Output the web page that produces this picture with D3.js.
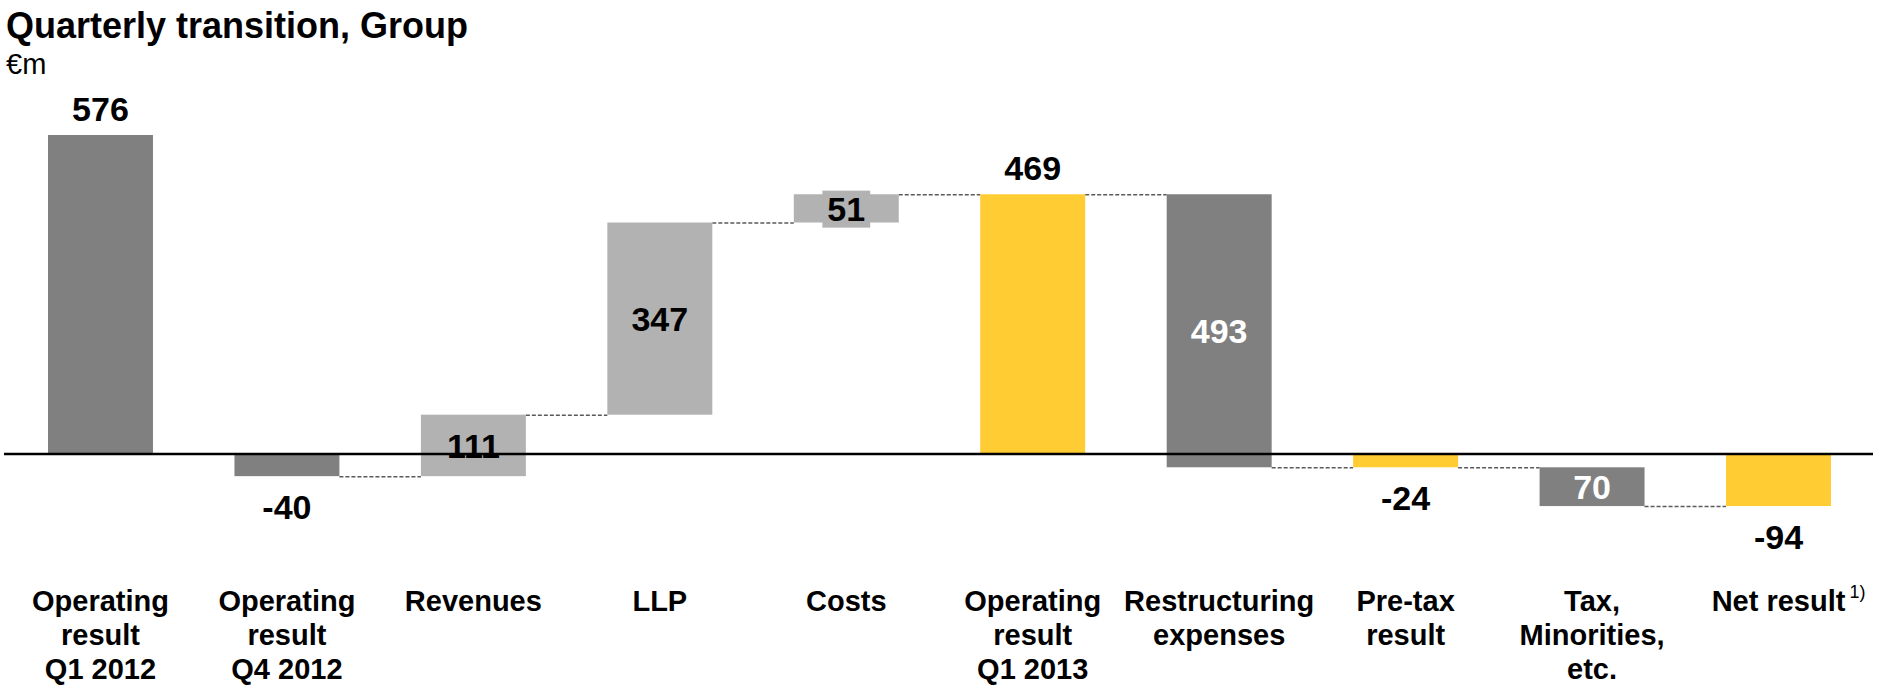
<!DOCTYPE html>
<html>
<head>
<meta charset="utf-8">
<script src="https://cdn.jsdelivr.net/npm/d3@7"></script>
<style>
  body { margin: 0; background: #fff; }
  svg { display: block; }
  text { font-family: Arial, "Liberation Sans", sans-serif; }
</style>
</head>
<body>
<div id="canvas"></div>
<script>
"use strict"

/* data, in €m */
let categories = [
    ["Operating", "result", "Q1 2012"],
    ["Operating", "result", "Q4 2012"],
    ["Revenues"],
    ["LLP"],
    ["Costs"],
    ["Operating", "result", "Q1 2013"],
    ["Restructuring", "expenses"],
    ["Pre-tax", "result"],
    ["Tax,", "Minorities,", "etc."],
    ["Net result"]
];
let values = [576, -40, 111, 347, 51, 469, -493, -24, -70, -94];
// prior = earlier quarter result, delta = step, total = current quarter subtotal
let barTypes = ["prior", "prior", "delta", "delta", "delta", "total", "delta", "total", "delta", "total"];
let footnotes = ["", "", "", "", "", "", "", "", "", "1)"];

let svgWidth = 1885;
let svgHeight = 686;

let darkGrey = "#808080";
let lightGrey = "#b2b2b2";
let yellow = "#ffcc33";

let svg = d3.select("#canvas")
    .append("svg")
    .attr("width", svgWidth)
    .attr("height", svgHeight);

/* running totals so every bar knows where it starts and ends */
let bars = [];
let running = 0;
values.forEach(function (v, i) {
    let start, end;
    if (barTypes[i] === "delta") {
        start = running;
        end = running + v;
    } else {
        start = 0;
        end = v;
    }
    running = end;
    bars.push({ i: i, value: v, type: barTypes[i], start: start, end: end });
});

let xScale = d3.scaleBand()
    .domain(d3.range(categories.length))
    .range([48, 1831])
    .paddingInner(0.437)
    .paddingOuter(0);

let yScale = d3.scaleLinear()
    .domain([0, 576])
    .range([454, 135]);

function barColour(d) {
    if (d.type === "total") return yellow;
    if (d.type === "prior") return darkGrey;
    return d.value > 0 ? lightGrey : darkGrey;
}

/* title + unit */
svg.append("text")
    .attr("x", 6)
    .attr("y", 38)
    .attr("font-size", 36)
    .attr("font-weight", "bold")
    .text("Quarterly transition, Group");

svg.append("text")
    .attr("x", 6)
    .attr("y", 74)
    .attr("font-size", 29)
    .text("€m");

/* dashed connectors between the bars (none between the two prior quarters) */
let links = bars.slice(1, bars.length - 1);
svg.selectAll(".link")
    .data(links)
    .join("line")
    .attr("class", "link")
    .attr("x1", d => xScale(d.i) + xScale.bandwidth())
    .attr("x2", d => xScale(d.i + 1))
    .attr("y1", d => yScale(d.end) + 0.5)
    .attr("y2", d => yScale(d.end) + 0.5)
    .attr("stroke", "#5a5a5a")
    .attr("stroke-width", 1.5)
    .attr("stroke-dasharray", "4,2");

svg.selectAll(".bar")
    .data(bars)
    .join("rect")
    .attr("class", "bar")
    .attr("x", d => xScale(d.i))
    .attr("width", xScale.bandwidth())
    .attr("y", d => yScale(Math.max(d.start, d.end)))
    .attr("height", d => Math.abs(yScale(d.start) - yScale(d.end)))
    .attr("fill", barColour);

/* zero line drawn over the bars */
svg.append("line")
    .attr("x1", 4)
    .attr("x2", 1873)
    .attr("y1", yScale(0))
    .attr("y2", yScale(0))
    .attr("stroke", "#000")
    .attr("stroke-width", 2.5);

/* value labels: subtotals outside, steps inside */
let labelSize = 34;
bars.forEach(function (d) {
    let cx = xScale(d.i) + xScale.bandwidth() / 2;
    let top = yScale(Math.max(d.start, d.end));
    let bottom = yScale(Math.min(d.start, d.end));
    let label = svg.append("text")
        .attr("x", cx)
        .attr("text-anchor", "middle")
        .attr("font-size", labelSize)
        .attr("font-weight", "bold");

    if (d.type === "delta") {
        label.attr("y", (top + bottom) / 2 + labelSize * 0.36)
            .attr("fill", d.value < 0 ? "#fff" : "#000")
            .text(Math.abs(d.value));
        // short bars get a grey box behind the number
        let box = label.node().getBBox();
        if (bottom - top < box.height) {
            svg.insert("rect", "text")
                .attr("x", box.x - 5)
                .attr("y", box.y + 1)
                .attr("width", box.width + 10)
                .attr("height", box.height - 1)
                .attr("fill", barColour(d));
        }
    } else if (d.value >= 0) {
        label.attr("y", top - 14).text(d.value);
    } else {
        label.attr("y", bottom + 43).text(d.value);
    }
});

/* category names under the chart */
bars.forEach(function (d) {
    let cx = xScale(d.i) + xScale.bandwidth() / 2;
    let t = svg.append("text")
        .attr("x", cx)
        .attr("y", 611)
        .attr("text-anchor", "middle")
        .attr("font-size", 29)
        .attr("font-weight", "bold");
    t.selectAll("tspan")
        .data(categories[d.i])
        .join("tspan")
        .attr("x", cx)
        .attr("dy", (s, k) => k === 0 ? 0 : 34)
        .text(s => s);

    if (footnotes[d.i]) {
        let w = t.node().getComputedTextLength();
        svg.append("text")
            .attr("x", cx + w / 2 + 4)
            .attr("y", 598)
            .attr("font-size", 18)
            .text(footnotes[d.i]);
    }
});
</script>
</body>
</html>
